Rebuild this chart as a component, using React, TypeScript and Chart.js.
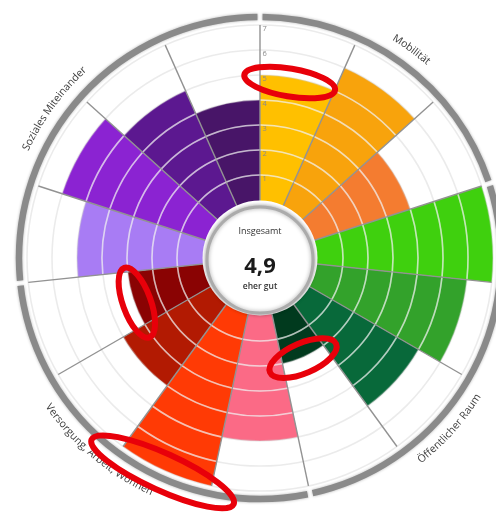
import React, { useEffect, useRef } from 'react';
import { Chart, registerables } from 'chart.js';

Chart.register(...registerables);

// ---------- data ----------
const categories = [
  'Mobilität 1', 'Mobilität 2', 'Mobilität 3',
  'Öffentlicher Raum 1', 'Öffentlicher Raum 2', 'Öffentlicher Raum 3', 'Öffentlicher Raum 4',
  'Versorgung, Arbeit, Wohnen 1', 'Versorgung, Arbeit, Wohnen 2', 'Versorgung, Arbeit, Wohnen 3', 'Versorgung, Arbeit, Wohnen 4',
  'Soziales Miteinander 1', 'Soziales Miteinander 2', 'Soziales Miteinander 3', 'Soziales Miteinander 4',
];
const values = [5, 6, 4, 7, 6, 5, 2, 5, 7, 4, 3, 5, 6, 5, 4];
const colors = [
  '#FFC000', '#F8A30C', '#F47C30',
  '#3FD00E', '#33A22B', '#08693A', '#013A1E',
  '#FB6A86', '#FF3A05', '#B21A02', '#8A0303',
  '#A87CF4', '#8B23D2', '#5C1890', '#481568',
];
const groupNames = ['Mobilität', 'Öffentlicher Raum', 'Versorgung, Arbeit, Wohnen', 'Soziales Miteinander'];
const groupSizes = [3, 4, 4, 4];
const tickValues = [1, 2, 3, 4, 5, 6, 7];
const scaleMax = 7;
const overallLabel = 'Insgesamt';
const overallValue = '4,9';
const overallRating = 'eher gut';
const highlightedCategories = [0, 10, 6, 8];

// ---------- layout / style ----------
const HOLE_VALUE_SPAN = 2.32; // part of the radius reserved for the centre hole, in value units
const groupLabelShiftDeg = [0, 12, 4, -6];
const highlightShape = [
  { at: 0.4, dr: -5, a: 46, b: 14 },
  { at: 0.42, dr: -2, a: 37, b: 14 },
  { at: 0.53, dr: 1, a: 36, b: 15 },
  { at: 0.52, dr: 2, a: 78, b: 18.5 },
];

function drawArcText(ctx: CanvasRenderingContext2D, text: string, cx: number, cy: number, r: number, centerDeg: number, topOutward: boolean) {
  const chars = Array.from(text);
  const widths = chars.map((ch) => ctx.measureText(ch).width);
  const total = widths.reduce((a, b) => a + b, 0);
  const totalAng = total / r;
  const c = (centerDeg * Math.PI) / 180;
  let a = topOutward ? c - totalAng / 2 : c + totalAng / 2;
  chars.forEach((ch, i) => {
    const half = widths[i] / 2 / r;
    const mid = topOutward ? a + half : a - half;
    const x = cx + r * Math.sin(mid);
    const y = cy - r * Math.cos(mid);
    ctx.save();
    ctx.translate(x, y);
    ctx.rotate(topOutward ? mid : mid - Math.PI);
    ctx.textAlign = 'center';
    ctx.textBaseline = 'middle';
    ctx.fillText(ch, 0, 0);
    ctx.restore();
    a = topOutward ? a + widths[i] / r : a - widths[i] / r;
  });
}

const decorPlugin = {
  id: 'decor',
  afterDraw(chart: any) {
    const ctx: CanvasRenderingContext2D = chart.ctx;
    const s = chart.scales.r;
    const cx = s.xCenter;
    const cy = s.yCenter;
    const rv = (v: number) => s.getDistanceFromCenterForValue(v);
    const n = values.length;
    const step = (2 * Math.PI) / n;
    const TAU = Math.PI * 2;

    ctx.save();

    // light grid rings inside the coloured sectors
    ctx.strokeStyle = 'rgba(255,255,255,0.55)';
    ctx.lineWidth = 1.6;
    values.forEach((val, i) => {
      const a0 = i * step - Math.PI / 2 + 0.004;
      const a1 = (i + 1) * step - Math.PI / 2 - 0.004;
      tickValues.forEach((t) => {
        if (t < val) {
          ctx.beginPath();
          ctx.arc(cx, cy, rv(t), a0, a1);
          ctx.stroke();
        }
      });
    });

    // clear the hole
    ctx.fillStyle = '#ffffff';
    ctx.beginPath();
    ctx.arc(cx, cy, rv(0) - 0.5, 0, TAU);
    ctx.fill();

    // centre circle
    const ccx = cx;
    const ccy = cy + 2;
    const cr = rv(0) - 5;
    ctx.save();
    ctx.shadowColor = 'rgba(0,0,0,0.35)';
    ctx.shadowBlur = 4;
    ctx.beginPath();
    ctx.arc(ccx, ccy, cr, 0, TAU);
    ctx.fillStyle = '#ffffff';
    ctx.fill();
    ctx.lineWidth = 3;
    ctx.strokeStyle = '#ababab';
    ctx.stroke();
    ctx.restore();

    ctx.fillStyle = '#333333';
    ctx.textAlign = 'center';
    ctx.textBaseline = 'middle';
    ctx.font = '9px "Open Sans"';
    ctx.fillText(overallLabel, ccx, cy - 27);
    ctx.fillStyle = '#1a1a1a';
    ctx.font = 'bold 22px "Open Sans"';
    ctx.fillText(overallValue, ccx, cy + 9);
    ctx.fillStyle = '#333333';
    ctx.font = '600 8.5px "Open Sans"';
    ctx.fillText(overallRating, ccx, cy + 29);

    // tick labels along the vertical axis
    ctx.fillStyle = '#8a8a8a';
    ctx.font = '7.5px "Open Sans"';
    ctx.textAlign = 'left';
    tickValues.forEach((v) => {
      ctx.fillText(String(v), cx + 2.5, cy - rv(v) + 4);
    });

    // outer ring, one arc per group
    const ringR = rv(scaleMax) + 8;
    const gap = (1.2 * Math.PI) / 180;
    let idx = 0;
    ctx.save();
    ctx.shadowColor = 'rgba(0,0,0,0.3)';
    ctx.shadowBlur = 3;
    ctx.strokeStyle = '#8a8a8a';
    ctx.lineWidth = 6.5;
    groupSizes.forEach((size) => {
      const a0 = idx * step + gap / 2 - Math.PI / 2;
      const a1 = (idx + size) * step - gap / 2 - Math.PI / 2;
      ctx.beginPath();
      ctx.arc(cx, cy, ringR, a0, a1);
      ctx.stroke();
      idx += size;
    });
    ctx.restore();

    // group labels along the ring
    ctx.fillStyle = '#3c3c3c';
    ctx.font = '10.5px "Open Sans"';
    const labelR = rv(scaleMax) + 25;
    idx = 0;
    groupSizes.forEach((size, g) => {
      const centerDeg = ((idx + size / 2) * 360) / n + groupLabelShiftDeg[g];
      const norm = ((centerDeg % 360) + 360) % 360;
      const topOutward = norm < 90 || norm > 270;
      drawArcText(ctx, groupNames[g], cx, cy, labelR, centerDeg, topOutward);
      idx += size;
    });

    // red highlight ellipses
    ctx.strokeStyle = '#E8000A';
    ctx.lineWidth = 6;
    highlightedCategories.forEach((ci, k) => {
      const h = highlightShape[k];
      const th = (ci + h.at) * step;
      const r = rv(values[ci]) + h.dr;
      const x = cx + r * Math.sin(th);
      const y = cy - r * Math.cos(th);
      ctx.beginPath();
      ctx.ellipse(x, y, h.a, h.b, th, 0, TAU);
      ctx.stroke();
    });
    ctx.restore();
  },
};

export default function App() {
  const ref = useRef<HTMLCanvasElement | null>(null);
  useEffect(() => {
    if (!ref.current) return;
    Chart.defaults.font.family = '"Open Sans", sans-serif';
    const chart = new Chart(ref.current, {
      type: 'polarArea',
      data: {
        labels: categories,
        datasets: [
          {
            data: values,
            backgroundColor: colors,
            borderWidth: 0,
          },
        ],
      },
      options: {
        animation: false,
        responsive: false,
        maintainAspectRatio: false,
        events: [],
        layout: { padding: { left: 27, right: 47, top: 25, bottom: 21 } },
        plugins: {
          legend: { display: false },
          tooltip: { enabled: false },
        },
        scales: {
          r: {
            min: -HOLE_VALUE_SPAN,
            max: scaleMax,
            startAngle: 0,
            ticks: { display: false, stepSize: 1 },
            pointLabels: { display: false },
            grid: {
              z: 1,
              circular: true,
              lineWidth: 1.6,
              color: (c: any) => (c.tick && c.tick.value > 0 ? 'rgba(205,205,205,0.4)' : 'rgba(0,0,0,0)'),
            },
            angleLines: { display: true, color: '#929292', lineWidth: 1.4 },
          },
        },
      },
      plugins: [decorPlugin],
    } as any);
    return () => chart.destroy();
  }, []);

  return (
    <div style={{ position: 'absolute', left: 0, top: 0, width: 496, height: 512, overflow: 'hidden', background: '#fff' }}>
      <canvas ref={ref} width={540} height={512} style={{ display: 'block', width: 540, height: 512 }} />
    </div>
  );
}
